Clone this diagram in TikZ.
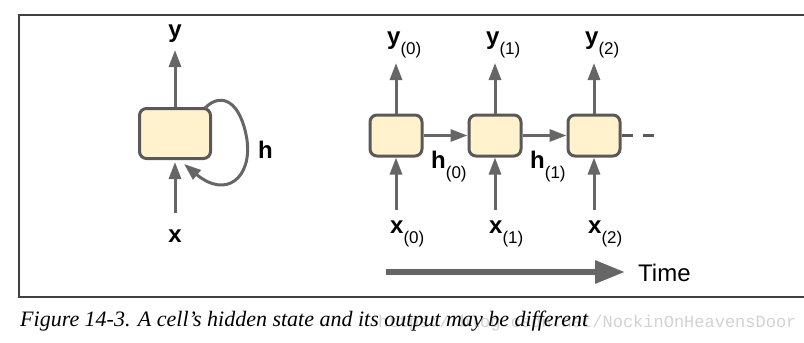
\documentclass[tikz,border=0pt]{standalone}
\usepackage{fontspec}
\setmainfont{Liberation Serif}
\setsansfont{Liberation Sans}
\setmonofont{Liberation Mono}
\usetikzlibrary{arrows.meta,calc}

\definecolor{cellfill}{HTML}{FFF2CC}
\definecolor{cellline}{HTML}{595959}
\definecolor{arrgray}{HTML}{666666}
\definecolor{framegray}{HTML}{404040}

\newcommand{\seqlbl}[2]{{\fontsize{24}{24}\selectfont\bfseries #1}\raisebox{-10pt}{\fontsize{17}{17}\selectfont(#2)}}

\begin{document}
\begin{tikzpicture}[x=1pt, y=-1pt,
  cell/.style={draw=cellline, fill=cellfill, line width=3pt, rounded corners=7pt,
               inner sep=0pt, minimum width=52pt, minimum height=41pt},
  arr/.style={-{Triangle[length=17pt,width=12pt]}, line width=3pt, arrgray},
  bigarr/.style={-{Triangle[length=30pt,width=22pt]}, line width=6pt, arrgray},
  lbl/.style={font=\sffamily, inner sep=0pt, anchor=base},
  sublbl/.style={font=\sffamily, inner sep=0pt, anchor=base west}
]
\useasboundingbox (0,0) rectangle (804,343);

%% ---- frame ----
\draw[framegray, line width=1.5pt] (806,15) -- (19,15) -- (19,297) -- (806,297);

%% ---- folded cell ----
\node[cell, minimum width=71pt, minimum height=50pt] (fold) at (175,133.5) {};
\coordinate (foldout) at (175,50);
\coordinate (foldin) at (175,213);
\draw[arr] (fold.north) -- (foldout);
\draw[arr, shorten >=2pt] (foldin) -- (fold.south);
\draw[arr] ($(fold.north east)+(-7,1)$) .. controls (222,91) and (241,102) .. (247,140)
  .. controls (252,178) and (226,199) .. ($(fold.south)+(9,4)$);
\node[lbl] (ylbl) at (175,37) {\fontsize{24}{24}\selectfont\bfseries y};
\node[lbl] (xlbl) at (175,242) {\fontsize{24}{24}\selectfont\bfseries x};
\node[sublbl] (hlbl) at (258,158) {\fontsize{24}{24}\selectfont\bfseries h};

%% ---- unrolled cells ----
\foreach \i in {0,1,2} {
  \node[cell] (c\i) at (396+99*\i,135.5) {};
  \coordinate (out\i) at (396+99*\i,63);
  \coordinate (in\i) at (396+99*\i,210);
  \draw[arr] (c\i.north) -- (out\i);
  \draw[arr] (in\i) -- (c\i.south);
  \node[sublbl] (y\i) at (387+99*\i,44) {\seqlbl{y}{\i}};
  \node[sublbl] (x\i) at (390+99*\i,233) {\seqlbl{x}{\i}};
}

%% hidden state arrows
\foreach \a/\b in {0/1, 1/2}
  \draw[arr] (c\a) -- (c\b);
\node[sublbl] (h0) at (431,168) {\seqlbl{h}{0}};
\node[sublbl] (h1) at (530,168) {\seqlbl{h}{1}};

%% continuation
\coordinate (more) at (655,135.5);
\draw[cellline, line width=3pt, dash pattern=on 11pt off 10pt] (c2.east) -- (more);

%% ---- time axis ----
\coordinate (tstart) at (386,272);
\coordinate (tend) at (625,272);
\draw[bigarr] (tstart) -- (tend);
\node[lbl, anchor=base west] (time) at (638,281) {\fontsize{24}{24}\selectfont Time};

%% ---- caption ----
\node[anchor=base west, inner sep=0pt, text=gray!35] (mark) at (378,327)
  {\fontsize{17}{17}\selectfont\ttfamily https://blog.csdn.net/NockinOnHeavensDoor};
\node[anchor=base west, inner sep=0pt] (cap) at (20,326)
  {\fontsize{22}{22}\selectfont\itshape Figure 14-3. A cell’s hidden state and its output may be different};

\end{tikzpicture}
\end{document}
